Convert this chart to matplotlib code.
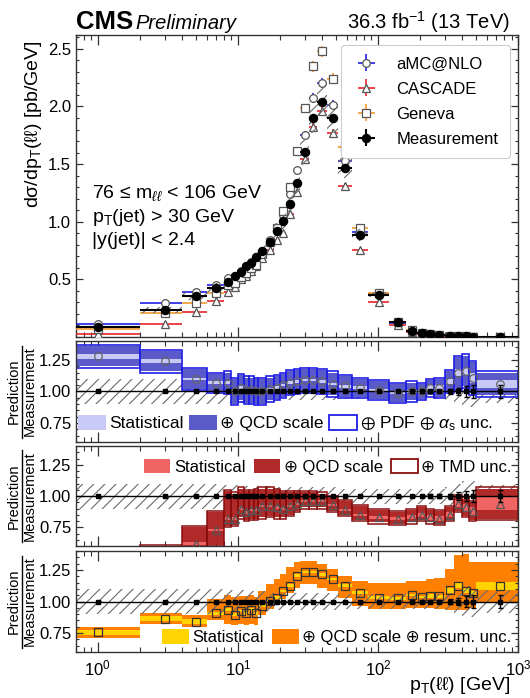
"""CMS Z+jet の p_T(ll) 微分断面積と 予測/測定 比の図を再現する."""

import matplotlib.pyplot as plt
import numpy as np
from matplotlib.lines import Line2D
from matplotlib.patches import Patch
from matplotlib.ticker import MultipleLocator

plt.rcParams["font.family"] = ["Liberation Sans", "DejaVu Sans"]
plt.rcParams["mathtext.fontset"] = "custom"
plt.rcParams["mathtext.rm"] = "Liberation Sans"
plt.rcParams["mathtext.it"] = "Liberation Sans:italic"
plt.rcParams["mathtext.bf"] = "Liberation Sans:bold"
plt.rcParams["mathtext.fallback"] = "stixsans"
plt.rcParams["hatch.linewidth"] = 0.8

# ビン境界 p_T(ll) [GeV]
pt_edges = [0, 2, 4, 6, 8, 9, 10, 11, 12, 13, 14, 16, 18, 20, 22, 25, 28, 32,
            37, 43, 52, 65, 85, 120, 160, 190, 220, 250, 300, 350, 400, 450,
            500, 1000]

# 測定値 [pb/GeV] と相対誤差
meas = [0.090, 0.236, 0.352, 0.422, 0.478, 0.525, 0.560, 0.612, 0.640, 0.690,
        0.748, 0.822, 0.922, 1.005, 1.158, 1.338, 1.607, 1.902, 2.040, 1.900,
        1.468, 0.885, 0.368, 0.127, 0.056, 0.033, 0.022, 0.015, 0.010, 0.0068,
        0.0048, 0.0035, 0.0014]
meas_stat = [0.004, 0.003, 0.003, 0.003, 0.004, 0.004, 0.004, 0.004, 0.004,
             0.004, 0.003, 0.003, 0.003, 0.003, 0.003, 0.003, 0.003, 0.003,
             0.003, 0.003, 0.003, 0.003, 0.004, 0.006, 0.009, 0.011, 0.013,
             0.014, 0.02, 0.03, 0.04, 0.05, 0.05]
meas_tot = [0.10, 0.10, 0.10, 0.10, 0.09, 0.09, 0.09, 0.08, 0.08, 0.08, 0.08,
            0.08, 0.07, 0.07, 0.07, 0.07, 0.07, 0.07, 0.07, 0.07, 0.06, 0.06,
            0.06, 0.06, 0.06, 0.06, 0.06, 0.06, 0.07, 0.10, 0.12, 0.12, 0.09]

# aMC@NLO / 測定
amc_ratio = [1.28, 1.24, 1.10, 1.07, 1.07, 1.00, 1.03, 1.01, 1.01, 1.00, 1.00,
             1.02, 1.03, 1.05, 1.07, 1.08, 1.09, 1.09, 1.08, 1.06, 1.04, 1.03,
             1.01, 0.99, 1.00, 1.00, 1.03, 1.03, 1.08, 1.15, 1.16, 1.11, 1.06]
amc_stat = [0.02, 0.015, 0.01, 0.01, 0.01, 0.01, 0.01, 0.01, 0.01, 0.01, 0.01,
            0.01, 0.01, 0.01, 0.01, 0.01, 0.01, 0.01, 0.01, 0.01, 0.01, 0.01,
            0.01, 0.01, 0.015, 0.015, 0.02, 0.02, 0.02, 0.03, 0.03, 0.04, 0.03]
amc_scale = [0.08, 0.08, 0.08, 0.07, 0.08, 0.10, 0.10, 0.10, 0.10, 0.10, 0.10,
             0.09, 0.09, 0.09, 0.09, 0.09, 0.09, 0.09, 0.09, 0.09, 0.08, 0.07,
             0.07, 0.07, 0.07, 0.06, 0.06, 0.07, 0.08, 0.12, 0.12, 0.12, 0.09]
amc_pdf = [0.01, 0.01, 0.01, 0.01, 0.01, 0.01, 0.01, 0.01, 0.01, 0.01, 0.01,
           0.01, 0.01, 0.01, 0.01, 0.01, 0.01, 0.01, 0.01, 0.01, 0.01, 0.01,
           0.01, 0.01, 0.01, 0.01, 0.01, 0.01, 0.01, 0.015, 0.015, 0.015, 0.01]

# CASCADE / 測定
cas_ratio = [0.28, 0.47, 0.62, 0.73, 0.82, 0.82, 0.90, 0.87, 0.89, 0.89, 0.92,
             0.92, 0.91, 0.90, 0.92, 0.94, 0.96, 0.96, 0.96, 0.93, 0.89, 0.85,
             0.83, 0.82, 0.83, 0.85, 0.83, 0.82, 0.85, 0.94, 0.91, 0.88, 0.94]
cas_stat = [0.01, 0.01, 0.01, 0.01, 0.01, 0.01, 0.01, 0.01, 0.01, 0.01, 0.01,
            0.01, 0.01, 0.01, 0.01, 0.01, 0.01, 0.01, 0.01, 0.01, 0.01, 0.01,
            0.01, 0.01, 0.015, 0.015, 0.02, 0.02, 0.02, 0.03, 0.03, 0.03, 0.05]
cas_up = [0.13, 0.13, 0.13, 0.14, 0.22, 0.20, 0.16, 0.17, 0.15, 0.16, 0.14,
          0.14, 0.14, 0.13, 0.11, 0.09, 0.07, 0.07, 0.06, 0.06, 0.07, 0.07,
          0.06, 0.05, 0.06, 0.06, 0.06, 0.06, 0.06, 0.06, 0.07, 0.07, 0.12]
cas_down = [0.12, 0.12, 0.12, 0.12, 0.06, 0.05, 0.07, 0.06, 0.07, 0.07, 0.09,
            0.08, 0.08, 0.07, 0.07, 0.06, 0.05, 0.05, 0.05, 0.05, 0.04, 0.04,
            0.04, 0.04, 0.04, 0.04, 0.04, 0.04, 0.04, 0.06, 0.07, 0.07, 0.12]
cas_tmd = [0.01, 0.01, 0.01, 0.01, 0.01, 0.01, 0.01, 0.01, 0.01, 0.01, 0.01,
           0.01, 0.01, 0.01, 0.01, 0.01, 0.01, 0.01, 0.01, 0.01, 0.01, 0.01,
           0.01, 0.01, 0.01, 0.01, 0.01, 0.01, 0.01, 0.01, 0.01, 0.01, 0.01]

# Geneva / 測定
gen_ratio = [0.755, 0.865, 0.84, 0.905, 0.935, 0.895, 0.925, 0.905, 0.935,
             0.905, 0.965, 1.005, 1.03, 1.085, 1.125, 1.205, 1.235, 1.235,
             1.215, 1.18, 1.125, 1.07, 1.03, 1.025, 1.05, 1.035, 1.045, 1.04,
             1.09, 1.125, 1.085, 1.065, 1.125]
gen_stat = [0.02, 0.02, 0.02, 0.01, 0.01, 0.01, 0.01, 0.01, 0.01, 0.01, 0.01,
            0.01, 0.01, 0.01, 0.01, 0.01, 0.01, 0.01, 0.01, 0.01, 0.01, 0.01,
            0.01, 0.01, 0.01, 0.01, 0.015, 0.015, 0.02, 0.02, 0.02, 0.02, 0.03]
gen_up = [0.045, 0.045, 0.05, 0.115, 0.12, 0.14, 0.12, 0.14, 0.12, 0.13, 0.115,
          0.135, 0.15, 0.135, 0.145, 0.105, 0.085, 0.085, 0.085, 0.08, 0.075,
          0.09, 0.12, 0.125, 0.11, 0.13, 0.135, 0.15, 0.17, 0.245, 0.295,
          0.245, 0.185]
gen_down = [0.045, 0.045, 0.04, 0.055, 0.115, 0.085, 0.1, 0.09, 0.11, 0.09,
            0.075, 0.065, 0.05, 0.065, 0.055, 0.095, 0.095, 0.095, 0.105, 0.1,
            0.095, 0.105, 0.09, 0.085, 0.1, 0.085, 0.095, 0.1, 0.16, 0.195,
            0.155, 0.115, 0.125]

W_PX, H_PX = 530, 698

C_AMC = "#1f1fe6"
C_CAS = "#e8242a"
C_GEN = "#f39a2e"
C_HATCH = "#6a6a6a"


def px_rect(x0, y0, x1, y1):
    """ピクセル座標の枠を figure 座標に変換."""
    return [x0 / W_PX, 1 - y1 / H_PX, (x1 - x0) / W_PX, (y1 - y0) / H_PX]


def style_axes(ax, xlabels=False):
    """ROOT 風の軸の体裁."""
    ax.set_xscale("log")
    ax.set_xlim(0.7, 1000)
    ax.tick_params(which="both", direction="in", top=True, right=True,
                   labelsize=12, color="#333")
    ax.tick_params(axis="x", which="major", length=7, width=0.9, pad=5)
    ax.tick_params(axis="x", which="minor", length=3.5, width=0.8)
    ax.tick_params(axis="y", which="major", length=5, width=0.9)
    ax.tick_params(axis="y", which="minor", length=2.5, width=0.8)
    ax.tick_params(axis="x", labelbottom=xlabels)
    for sp in ax.spines.values():
        sp.set_linewidth(1.0)
        sp.set_color("#333")


def style_ratio(ax):
    ax.set_ylim(0.6, 1.4)
    ax.set_yticks([0.75, 1.0, 1.25])
    ax.set_yticklabels(["0.75", "1.00", "1.25"])
    ax.yaxis.set_minor_locator(MultipleLocator(0.05))


def main():
    edges = np.array(pt_edges, dtype=float)
    x_lo = np.maximum(edges[:-1], 0.5)  # 0 は対数軸に載らないので切る
    x_hi = edges[1:]
    x_c = (edges[:-1] + edges[1:]) / 2
    x_err = [x_c - x_lo, x_hi - x_c]
    st_edges = np.append(x_lo, x_hi[-1])
    widths = x_hi - x_lo

    m = np.array(meas)
    m_tot = np.array(meas_tot)
    m_stat = np.array(meas_stat)

    fig = plt.figure(figsize=(W_PX / 100, H_PX / 100), dpi=100)
    ax_main = fig.add_axes(px_rect(76, 35, 518, 337))
    ax_r1 = fig.add_axes(px_rect(76, 341, 518, 442))
    ax_r2 = fig.add_axes(px_rect(76, 446, 518, 546))
    ax_r3 = fig.add_axes(px_rect(76, 551, 518, 652))

    # ---- メインパネル ----
    gens = [
        ("aMC@NLO", amc_ratio, amc_stat, "o", C_AMC),
        ("CASCADE", cas_ratio, cas_stat, "^", C_CAS),
        ("Geneva", gen_ratio, gen_stat, "s", C_GEN),
    ]
    for label, ratio, stat, mk, col in gens:
        pred = m * np.array(ratio)
        ax_main.errorbar(x_c, pred, xerr=x_err, yerr=pred * np.array(stat) * 2,
                         fmt=mk, ms=5.5, mfc="white", mec="#555", mew=0.9,
                         ecolor=col, elinewidth=1.2, capsize=0, label=label,
                         zorder=3)

    ax_main.bar(x_lo, 2 * m * m_tot, width=widths, bottom=m * (1 - m_tot),
                align="edge", facecolor="none", edgecolor=C_HATCH, hatch="///",
                lw=0, zorder=4)
    ax_main.errorbar(x_c, m, xerr=x_err, yerr=m * m_stat * 3, fmt="o", ms=5.8,
                     color="black", elinewidth=1.5, capsize=0,
                     label="Measurement", zorder=5)

    style_axes(ax_main)
    ax_main.set_ylim(0, 2.62)
    ax_main.set_yticks([0.5, 1.0, 1.5, 2.0, 2.5])
    ax_main.yaxis.set_minor_locator(MultipleLocator(0.1))

    leg = ax_main.legend(loc="upper right", bbox_to_anchor=(0.982, 0.967),
                         fontsize=12, frameon=True, fancybox=True,
                         edgecolor="#cccccc", framealpha=1, borderpad=0.7,
                         labelspacing=0.6, handlelength=1.6,
                         handletextpad=1.0, borderaxespad=0)
    leg.get_frame().set_linewidth(0.8)

    cuts = ["76 \u2264 m$_{\\ell\\ell}$ < 106 GeV",
            "p$_\\mathrm{T}$(jet) > 30 GeV",
            "|y(jet)| < 2.4"]
    for txt, yb in zip(cuts, [0.46, 0.381, 0.305]):
        ax_main.text(0.036, yb, txt, transform=ax_main.transAxes, fontsize=14,
                     va="baseline", ha="left")

    # ---- 比: aMC@NLO ----
    ax = ax_r1
    ax.stairs(1 + m_tot, st_edges, baseline=1 - m_tot, fill=True,
              facecolor="none", edgecolor=C_HATCH, hatch="///", lw=0, zorder=1)
    r = np.array(amc_ratio)
    sc = np.array(amc_scale)
    tot = sc + np.array(amc_pdf)
    stt = np.array(amc_stat)
    ax.bar(x_lo, 2 * sc, width=widths, bottom=r - sc, align="edge",
           color="#5a5ac8", lw=0, zorder=2)
    ax.bar(x_lo, 2 * stt, width=widths, bottom=r - stt, align="edge",
           color="#c9c9f5", lw=0, zorder=2.1)
    ax.bar(x_lo, 2 * tot, width=widths, bottom=r - tot, align="edge",
           facecolor="none", edgecolor=C_AMC, lw=1.2, zorder=2.2)
    ax.plot(x_c, r, "o", ms=5.5, mfc="none", mec="#666", mew=0.9, zorder=4)
    handles = [Patch(facecolor="#c9c9f5", lw=0),
               Patch(facecolor="#5a5ac8", lw=0),
               Patch(facecolor="white", edgecolor=C_AMC, lw=1.3)]
    labels = ["Statistical", "\u2295 QCD scale",
              "$\\oplus$ PDF $\\oplus$ $\\alpha_\\mathrm{s}$ unc."]
    ax.legend(handles, labels, loc="center left", bbox_to_anchor=(0.005, 0.18),
              ncol=3, frameon=False, fontsize=12.5, handlelength=1.6,
              handleheight=1.0, handletextpad=0.2, columnspacing=0.3,
              borderaxespad=0, borderpad=0)

    # ---- 比: CASCADE ----
    ax = ax_r2
    ax.stairs(1 + m_tot, st_edges, baseline=1 - m_tot, fill=True,
              facecolor="none", edgecolor=C_HATCH, hatch="///", lw=0, zorder=1)
    r = np.array(cas_ratio)
    up = np.array(cas_up)
    dn = np.array(cas_down)
    tmd = np.array(cas_tmd)
    stt = np.array(cas_stat)
    ax.bar(x_lo, up + dn, width=widths, bottom=r - dn, align="edge",
           color="#b02a2a", lw=0, zorder=2)
    ax.bar(x_lo, 2 * stt, width=widths, bottom=r - stt, align="edge",
           color="#f06464", lw=0, zorder=2.1)
    ax.bar(x_lo, up + dn + 2 * tmd, width=widths, bottom=r - dn - tmd,
           align="edge", facecolor="none", edgecolor="#8a0d0d", lw=1.1,
           zorder=2.2)
    ax.plot(x_c, r, "^", ms=6, mfc="none", mec="#555", mew=0.9, zorder=4)
    handles = [Patch(facecolor="#f06464", lw=0),
               Patch(facecolor="#b02a2a", lw=0),
               Patch(facecolor="white", edgecolor="#8a0d0d", lw=1.3)]
    labels = ["Statistical", "\u2295 QCD scale", "\u2295 TMD unc."]
    ax.legend(handles, labels, loc="center right", bbox_to_anchor=(0.985, 0.79),
              ncol=3, frameon=False, fontsize=12, handlelength=1.6,
              handleheight=0.9, handletextpad=0.2, columnspacing=0.5,
              borderaxespad=0, borderpad=0)

    # ---- 比: Geneva ----
    ax = ax_r3
    r = np.array(gen_ratio)
    up = np.array(gen_up)
    dn = np.array(gen_down)
    stt = np.array(gen_stat)
    ax.stairs(r + up, st_edges, baseline=r - dn, fill=True, color="#ff8000",
              lw=0, zorder=1)
    ax.stairs(r + stt, st_edges, baseline=r - stt, fill=True, color="#ffd400",
              lw=0, zorder=1.1)
    ax.stairs(1 + m_tot, st_edges, baseline=1 - m_tot, fill=True,
              facecolor="none", edgecolor=C_HATCH, hatch="///", lw=0, zorder=2)
    ax.plot(x_c, r, "s", ms=5.5, mfc="none", mec="#333", mew=0.9, zorder=4)
    handles = [Patch(facecolor="#ffd400", lw=0),
               Patch(facecolor="#ff8000", lw=0)]
    labels = ["Statistical", "\u2295 QCD scale \u2295 resum. unc."]
    ax.legend(handles, labels, loc="center right", bbox_to_anchor=(0.985, 0.15),
              ncol=2, frameon=False, fontsize=12, handlelength=1.6,
              handleheight=1.0, handletextpad=0.2, columnspacing=0.5,
              borderaxespad=0, borderpad=0)

    # 測定点 (比 = 1)
    for ax in (ax_r1, ax_r2, ax_r3):
        ax.axhline(1.0, color="black", lw=1.0, zorder=3)
        ax.errorbar(x_c, np.ones_like(x_c), yerr=m_stat, fmt="s", ms=2.2,
                    color="black", elinewidth=1.0, capsize=1.8, zorder=5)
        style_axes(ax, xlabels=(ax is ax_r3))
        style_ratio(ax)

    # 比パネルの y ラベル
    for top, bot in [(341, 442), (446, 546), (551, 652)]:
        yc = (top + bot) / 2
        fig.text(14 / W_PX, 1 - yc / H_PX, "Prediction", rotation=90,
                 ha="center", va="center", fontsize=10.5)
        fig.text(30 / W_PX, 1 - yc / H_PX, "Measurement", rotation=90,
                 ha="center", va="center", fontsize=10.5)
        fig.add_artist(Line2D([22 / W_PX, 22 / W_PX],
                              [1 - (yc - 46) / H_PX, 1 - (yc + 46) / H_PX],
                              color="black", lw=1.0))

    fig.text(34 / W_PX, 1 - 40 / H_PX, "d\u03c3/dp$_\\mathrm{T}$(\u2113\u2113) [pb/GeV]",
             rotation=90, ha="center", va="top", fontsize=14)
    fig.text(510 / W_PX, 2 / H_PX, "p$_\\mathrm{T}$(\u2113\u2113) [GeV]",
             ha="right", va="bottom", fontsize=14)

    fig.text(76 / W_PX, 1 - 29 / H_PX, "CMS", fontsize=18.5, fontweight="bold",
             ha="left", va="baseline")
    fig.text(135 / W_PX, 1 - 29 / H_PX, "Preliminary", fontsize=14.5,
             style="italic", ha="left", va="baseline")
    fig.text(510 / W_PX, 1 - 29 / H_PX, "36.3 fb$^{-1}$ (13 TeV)",
             fontsize=14.5, ha="right", va="baseline")

    fig.savefig("out.png", dpi=100)


if __name__ == "__main__":
    main()
